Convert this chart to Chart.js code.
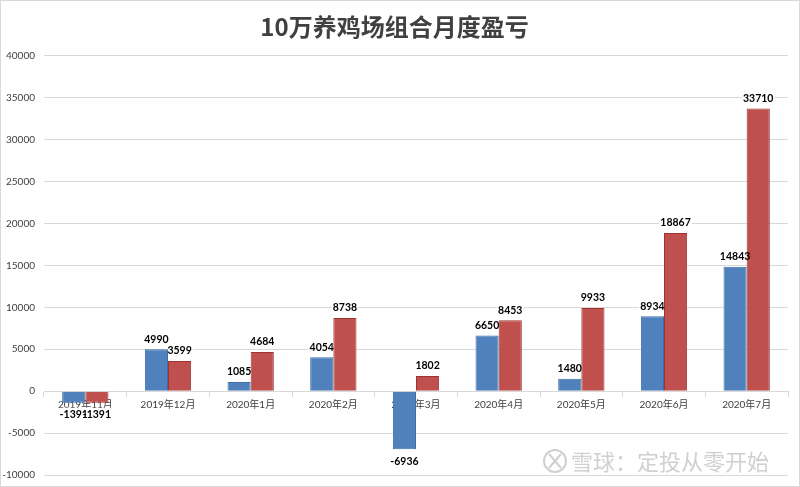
<!DOCTYPE html>
<html>
<head>
<meta charset="utf-8">
<script src="https://cdn.jsdelivr.net/npm/chart.js@4"></script>
<style>
  html, body { margin: 0; padding: 0; background: #fff; }
  #wrap { width: 798px; height: 485px; border: 1px solid #d9d9d9; }
</style>
</head>
<body>
<div id="wrap"><canvas id="chart" width="798" height="485"></canvas></div>
<script>
const months = ['2019年11月', '2019年12月', '2020年1月', '2020年2月', '2020年3月',
  '2020年4月', '2020年5月', '2020年6月', '2020年7月'];
const monthly = [-1391, 4990, 1085, 4054, -6936, 6650, 1480, 8934, 14843];
const cumulative = [-1391, 3599, 4684, 8738, 1802, 8453, 9933, 18867, 33710];
const yMin = -10000;
const yMax = 40000;
const yStep = 5000;

const FONT = 'Lato, "Noto Sans CJK SC", sans-serif';
const LABEL_FONT = 'bold 10.5px ' + FONT;

function labelY(bar, v) {
  return v >= 0 ? bar.y - 10 : bar.y + 12;
}

// value labels above / below each bar; white box hides the grid under the text
const barLabels = {
  id: 'barLabels',
  beforeDatasetsDraw(chart) {
    const ctx = chart.ctx;
    ctx.save();
    ctx.font = LABEL_FONT;
    ctx.fillStyle = '#fff';
    chart.data.datasets.forEach((ds, i) => {
      chart.getDatasetMeta(i).data.forEach((bar, j) => {
        const v = ds.data[j];
        const w = ctx.measureText(String(v)).width;
        ctx.fillRect(bar.x - w / 2 - 1, labelY(bar, v) - 7, w + 2, 14);
      });
    });
    ctx.restore();
  },
  afterDatasetsDraw(chart) {
    const ctx = chart.ctx;
    ctx.save();
    ctx.font = LABEL_FONT;
    ctx.textAlign = 'center';
    ctx.textBaseline = 'middle';
    ctx.fillStyle = '#000';
    chart.data.datasets.forEach((ds, i) => {
      chart.getDatasetMeta(i).data.forEach((bar, j) => {
        const v = ds.data[j];
        ctx.fillText(String(v), bar.x, labelY(bar, v));
      });
    });
    ctx.restore();
  }
};

// xueqiu watermark
const watermark = {
  id: 'watermark',
  afterDraw(chart) {
    const ctx = chart.ctx;
    ctx.save();
    ctx.strokeStyle = '#d0d0d0';
    ctx.lineWidth = 2;
    ctx.beginPath();
    ctx.arc(554, 460, 11, 0, Math.PI * 2);
    ctx.stroke();
    ctx.beginPath();
    ctx.moveTo(548, 453); ctx.lineTo(560, 467);
    ctx.moveTo(560, 453); ctx.lineTo(548, 467);
    ctx.stroke();
    ctx.fillStyle = '#d0d0d0';
    ctx.font = '22px "Noto Sans CJK SC"';
    ctx.textBaseline = 'middle';
    ctx.fillText('雪球：定投从零开始', 570, 461);
    ctx.restore();
  }
};

const config = {
  type: 'bar',
  data: {
    labels: months,
    datasets: [
      {
        label: '月度盈亏',
        data: monthly,
        backgroundColor: '#4f81bd',
        borderColor: '#3d6da6',
        borderWidth: 1,
        barPercentage: 1,
        categoryPercentage: 0.56
      },
      {
        label: '累计盈亏',
        data: cumulative,
        backgroundColor: '#c0504d',
        borderColor: '#9c3431',
        borderWidth: 1,
        barPercentage: 1,
        categoryPercentage: 0.56
      }
    ]
  },
  options: {
    responsive: false,
    animation: false,
    layout: { padding: { left: 0, right: 11, bottom: 11, top: 0 } },
    plugins: {
      legend: { display: false },
      tooltip: { enabled: false },
      title: {
        display: true,
        text: '10万养鸡场组合月度盈亏',
        color: '#404040',
        font: { family: '"Noto Sans CJK SC"', size: 24, weight: 'bold' },
        padding: { top: 11, bottom: 15 }
      }
    },
    scales: {
      x: {
        position: { y: 0 },
        grid: {
          offset: true,
          drawOnChartArea: false,
          tickLength: 5,
          color: '#d9d9d9'
        },
        border: { display: true, color: '#d9d9d9' },
        ticks: {
          color: '#404040',
          font: { family: FONT, size: 10 },
          padding: 3,
          maxRotation: 0
        }
      },
      y: {
        min: yMin,
        max: yMax,
        ticks: {
          stepSize: yStep,
          color: '#404040',
          font: { family: FONT, size: 10 },
          padding: 1,
          callback: (v) => String(v)
        },
        grid: { color: '#d9d9d9', tickLength: 8, tickColor: 'rgba(0,0,0,0)' },
        border: { display: false },
        afterFit(scale) { scale.width = 43; }
      }
    }
  },
  plugins: [barLabels, watermark]
};

const myChart = new Chart(document.getElementById('chart'), config);
</script>
</body>
</html>
